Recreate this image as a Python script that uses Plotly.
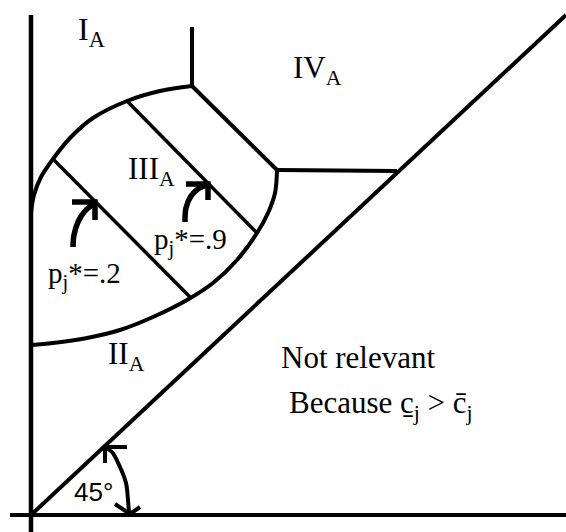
import plotly.graph_objects as go

# ---- diagram geometry (origin at the axes' intersection, y upward) ----
axis_v_x = [0, 0]
axis_v_y = [-17, 500]
axis_h_x = [-21, 535]
axis_h_y = [0, 0]
diag_x = [0, 535]
diag_y = [0, 500]

top_stub_x = [161, 161]
top_stub_y = [429, 488]

upper_arc_x = [0, 3, 10, 22, 39, 62, 96, 129, 161]
upper_arc_y = [302, 320, 338, 356, 377, 397, 414, 424, 429]

edge_diag_x = [161, 246]
edge_diag_y = [429, 345]

edge_flat_x = [246, 366]
edge_flat_y = [345, 344]

lower_arc_x = [246, 244, 237, 226, 206, 182, 156, 122, 89, 56, 22, 0]
lower_arc_y = [345, 322, 302, 282, 255, 232, 215, 198, 185, 177, 172, 170]

inner1_x = [22, 159]
inner1_y = [356, 218]
inner2_x = [96, 226]
inner2_y = [414, 282]

arrow1_x = [42, 43, 47, 54, 64]
arrow1_y = [268, 280, 293, 304, 312]
arrow1_head_x = [41, 64, 64]
arrow1_head_y = [313, 313, 295]

arrow2_x = [154, 155, 160, 167, 176]
arrow2_y = [293, 307, 319, 326, 330]
arrow2_head_x = [155, 177, 177]
arrow2_head_y = [331, 331, 315]

angle_arc_x = [75, 81, 89, 95, 97, 98]
angle_arc_y = [67, 63, 48, 32, 15, 2]
angle_top_head_x = [96, 74, 74]
angle_top_head_y = [68, 68, 52]
angle_bot_head_x = [84, 99, 109]
angle_bot_head_y = [11, 1, 8]

labels = ["I<sub>A</sub>", "IV<sub>A</sub>", "III<sub>A</sub>", "II<sub>A</sub>",
          "Not relevant", "Because c\u0331<sub>j</sub> > c\u0304<sub>j</sub>",
          "p<sub>j</sub>*=.9", "p<sub>j</sub>*=.2", "45°"]
label_x = [45, 260, 95, 75, 248, 256, 121, 15, 41]
label_y = [484, 445, 344, 159, 158, 110, 274, 240, 23]
label_size = [32, 31, 31, 31, 31, 31, 29, 29, 26]
label_font = ["Liberation Serif"] * 8 + ["Liberation Sans"]

fig = go.Figure()


def seg(xs, ys, w, shape="linear"):
    fig.add_trace(go.Scatter(x=xs, y=ys, mode="lines",
                             line=dict(color="black", width=w, shape=shape),
                             hoverinfo="skip", showlegend=False))


seg(axis_v_x, axis_v_y, 4.5)
seg(axis_h_x, axis_h_y, 4)
seg(diag_x, diag_y, 4)
seg(top_stub_x, top_stub_y, 4)
seg(upper_arc_x, upper_arc_y, 4, "spline")
seg(edge_diag_x, edge_diag_y, 4)
seg(edge_flat_x, edge_flat_y, 4)
seg(lower_arc_x, lower_arc_y, 4, "spline")
seg(inner1_x, inner1_y, 3.5)
seg(inner2_x, inner2_y, 3.5)
seg(arrow1_x, arrow1_y, 5.5, "spline")
seg(arrow1_head_x, arrow1_head_y, 5.5)
seg(arrow2_x, arrow2_y, 5.5, "spline")
seg(arrow2_head_x, arrow2_head_y, 5.5)
seg(angle_arc_x, angle_arc_y, 4, "spline")
seg(angle_top_head_x, angle_top_head_y, 4)
seg(angle_bot_head_x, angle_bot_head_y, 4)

for t, x, y, s, f in zip(labels, label_x, label_y, label_size, label_font):
    fig.add_annotation(x=x, y=y, xref="x", yref="y", text=t, showarrow=False,
                       xanchor="left", yanchor="middle",
                       font=dict(family=f, size=s, color="black"))

fig.update_layout(
    width=566, height=532,
    margin=dict(l=0, r=0, t=0, b=0),
    paper_bgcolor="white", plot_bgcolor="white",
    xaxis=dict(range=[-31, 535], visible=False, fixedrange=True),
    yaxis=dict(range=[-17, 515], visible=False, fixedrange=True),
)

fig.write_html("out.html", config={"displayModeBar": False},
               post_script="document.body.style.margin='0px';")
